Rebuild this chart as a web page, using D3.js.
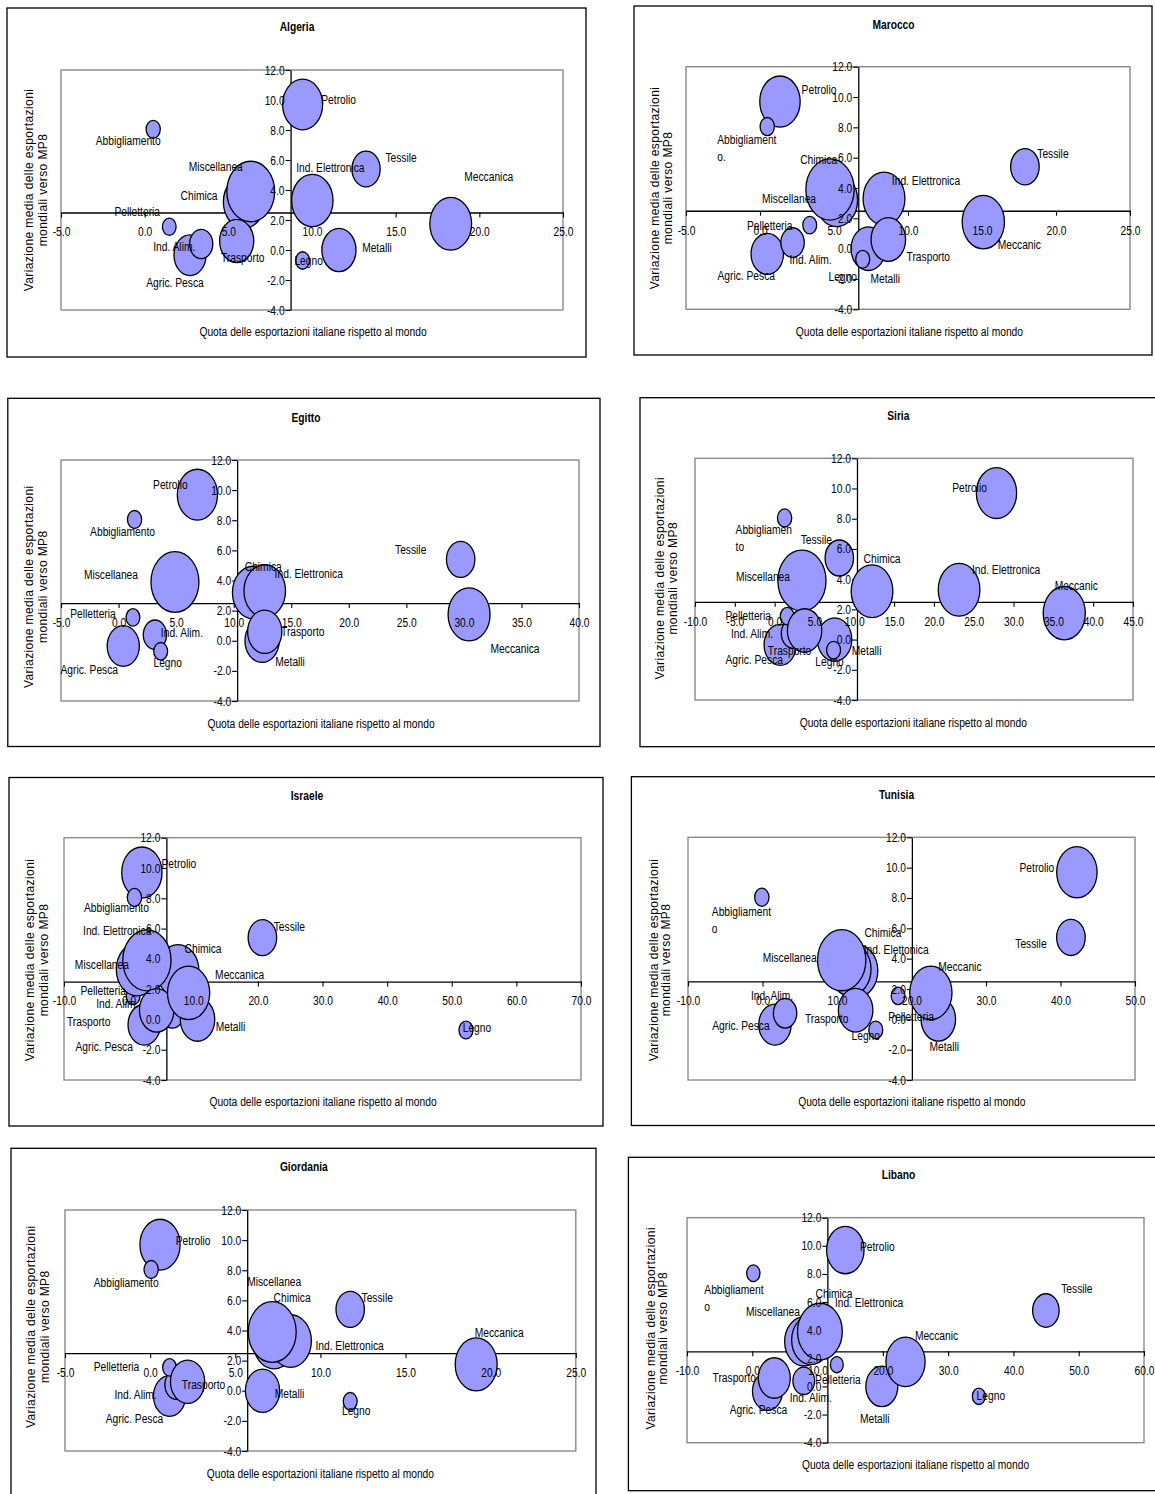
<!DOCTYPE html>
<html>
<head>
<meta charset="utf-8">
<script src="https://cdn.jsdelivr.net/npm/d3@7"></script>
<style>
  html, body { margin: 0; padding: 0; background: #fff; }
  svg { display: block; }
  text { font-family: "Liberation Sans", Arial, sans-serif; }
</style>
</head>
<body>
<svg id="chart" width="1155" height="1494"></svg>
<script>
// Sectors (in drawing order) and their common values
const settori = ["Agric. Pesca", "Ind. Alim.", "Petrolio", "Abbigliamento", "Tessile", "Pelletteria",
                 "Chimica", "Ind. Elettronica", "Miscellanea", "Metalli", "Trasporto", "Meccanica", "Legno"];
// average change of world exports towards MP8 (y)
const crescita = [-0.35, 0.4, 9.7, 8.05, 5.4, 1.55, 3.2, 3.3, 3.9, 0.0, 0.6, 1.75, -0.7];
// bubble weight of each sector
const peso = [45, 23.5, 70, 8.8, 35, 8.2, 75, 75, 100, 51, 51, 76.5, 8.4];

// Italian export share vs world (x), per country, same order as settori
const quotaAlgeria   = [2.71, 3.38, 9.44, 0.51, 13.23, 1.47, 5.94, 10.02, 6.34, 11.61, 5.5, 18.29, 9.44];
const quotaMarocco   = [0.49, 2.2, 1.35, 0.49, 17.9, 3.36, 5.18, 8.38, 4.73, 7.32, 8.67, 15.09, 6.94];
const quotaEgitto    = [0.41, 3.16, 6.85, 1.39, 29.72, 1.25, 11.7, 12.7, 4.9, 12.47, 12.7, 30.45, 3.66];
const quotaSiria     = [0.7, 2.3, 27.86, 1.25, 8.12, 1.58, 12.23, 23.16, 3.43, 7.53, 3.76, 36.37, 7.4];
const quotaIsraele   = [2.41, 6.75, 2.05, 0.9, 20.7, 0.7, 7.65, 1.33, 2.83, 10.66, 4.34, 9.28, 52.2];
const quotaTunisia   = [1.67, 3.03, 42.2, -0.09, 41.4, 18.2, 12.67, 11.76, 10.63, 23.6, 12.5, 22.6, 15.2];
const quotaGiordania = [1.14, 1.55, 0.58, 0.06, 11.75, 1.14, 7.28, 8.25, 7.17, 6.6, 2.2, 19.15, 11.75];
const quotaLibano    = [2.33, 7.88, 14.25, 0.16, 44.97, 12.95, 7.93, 9.0, 10.36, 19.84, 3.37, 23.47, 34.7];

const paesi = ["Algeria", "Marocco", "Egitto", "Siria", "Israele", "Tunisia", "Giordania", "Libano"];
const quote = [quotaAlgeria, quotaMarocco, quotaEgitto, quotaSiria, quotaIsraele, quotaTunisia, quotaGiordania, quotaLibano];
// overall Italian share per country (where the vertical axis crosses)
const quotaTotale = [8.72, 6.64, 10.3, 10.34, 5.84, 20.05, 5.7, 11.5];
// average world growth (where the horizontal axis crosses)
const crescitaMedia = 2.5;

// axis extents and tick steps
const xDomini = [[-5, 25], [-5, 25], [-5, 40], [-10, 45], [-10, 70], [-10, 50], [-5, 25], [-10, 60]];
const xPassi = [5, 5, 5, 5, 10, 10, 5, 10];
const yTicks = [-4, -2, 0, 2, 4, 6, 8, 10, 12];

// label wording that differs from the sector name in some charts
const etichetteSpeciali = {
  Marocco: { "Abbigliamento": ["Abbigliament", "o."], "Meccanica": "Meccanic" },
  Siria:   { "Abbigliamento": ["Abbigliamen", "to"], "Meccanica": "Meccanic" },
  Tunisia: { "Abbigliamento": ["Abbigliament", "o"], "Meccanica": "Meccanic", "Ind. Elettronica": "Ind. Elettonica" },
  Libano:  { "Abbigliamento": ["Abbigliament", "o"], "Meccanica": "Meccanic" }
};

const titoloX = "Quota delle esportazioni italiane rispetto al mondo";
const titoloY = ["Variazione media delle esportazioni", "mondiali verso MP8"];

// ---- layout of the eight panels (pixels) ----
const layout = [
  { frame: [7, 8, 586, 357], plot: [61, 70, 563, 310], title: [297, 27], xt: [313, 332], yt: [28.4, 42.4, 190],
    lab: [[-15,27],[-27,3],[36,-5],[-25,11],[35,-11],[-32,-15],[-45,-6],[18,-33],[-35,-25],[38,-2],[6,17],[38,-47],[6,0]] },
  { frame: [634, 6, 1152, 355], plot: [686, 66.7, 1130, 309.3], title: [893.5, 25], xt: [909.4, 331.7], yt: [655.2, 667.7, 188],
    lab: [[-21,22],[18,17],[39,-12],[-50,13],[28,-13],[-40,0],[-18,-41],[42,-18],[-41,9],[17,30],[40,17],[36,22],[-20,17]] },
  { frame: [7.8, 398.3, 600, 746.5], plot: [61, 460, 579, 701], title: [306, 417.3], xt: [321, 724], yt: [29, 42.6, 586.7],
    lab: [[-34,24],[27,-2],[-27,-10],[-12,12],[-50,-10],[-40,-4],[10,-26],[44,-17],[-64,-7],[28,21],[38,0],[46,34],[7,11]] },
  { frame: [640, 397.7, 1162, 746.7], plot: [695, 458.3, 1133, 700], title: [898.3, 415.7], xt: [913.3, 722.7], yt: [660, 672.3, 578.3],
    lab: [[-26,15],[-41,0],[-27,-5],[-49,12],[-23,-18],[-39,-1],[10,-33],[47,-20],[-39,-4],[32,11],[-15,20],[12,-28],[-4,11]] },
  { frame: [9, 777.5, 603, 1126], plot: [64, 837.7, 581, 1080], title: [307, 796], xt: [323, 1101.7], yt: [29.3, 43.8, 960],
    lab: [[-40,22],[-55,-10],[37,-9],[-18,10],[27,-11],[-30,-5],[25,-22],[-20,-39],[-45,4],[33,7],[-68,11],[51,-18],[11,-2]] },
  { frame: [631.4, 776.7, 1162, 1125.5], plot: [688, 837.3, 1135, 1080], title: [896.6, 795], xt: [911.8, 1101.7], yt: [653.3, 665.8, 960],
    lab: [[-34,1],[-13,-18],[-40,-5],[-50,14],[-40,6],[13,21],[26,-38],[46,-20],[-52,-3],[6,27],[-29,8],[29,-26],[-10,6]] },
  { frame: [11, 1148.3, 596, 1502], plot: [65, 1210, 575.8, 1451], title: [303.8, 1166.7], xt: [320.4, 1474], yt: [30.8, 45, 1326.7],
    lab: [[-35,23],[-41,10],[33,-4],[-25,13],[27,-12],[-53,-1],[18,-45],[59,5],[2,-50],[27,3],[16,3],[23,-32],[6,9]] },
  { frame: [628.4, 1157.3, 1162, 1490.7], plot: [687, 1217.7, 1144, 1442.7], title: [898.5, 1175], xt: [915.5, 1465], yt: [650.5, 663, 1328.3],
    lab: [[-9,18],[7,17],[32,-3],[-49,16],[31,-22],[1,15],[30,-48],[58,-37],[-47,-20],[-7,32],[-40,0],[31,-26],[12,-1]] }
];

const svg = d3.select("#chart");
svg.append("rect").attr("width", 1155).attr("height", 1494).attr("fill", "#fff");

const fmt = d => d.toFixed(1);
const ELLISSE = 0.79;    // horizontal / vertical radius of the bubbles
const STRETTO = 0.82;    // horizontal squeeze giving a narrow typeface
const FS = 12.5;

// places a text at (x, y) with a narrow horizontal scale
function stretto(t, x, y) {
  t.attr("x", null).attr("y", null)
   .attr("transform", `translate(${x},${y}) scale(${STRETTO},1)`);
  return t;
}

paesi.forEach((paese, i) => {
  const L = layout[i];
  const [pl, pt, pr, pb] = L.plot;
  const g = svg.append("g");

  // outer frame
  const [fl, ft, fr, fb] = L.frame;
  g.append("rect").attr("x", fl).attr("y", ft).attr("width", fr - fl).attr("height", fb - ft)
    .attr("fill", "none").attr("stroke", "#000").attr("stroke-width", 1.3);

  const x = d3.scaleLinear().domain(xDomini[i]).range([pl, pr]);
  const y = d3.scaleLinear().domain([-4, 12]).range([pb, pt]);
  const r = d3.scaleSqrt().domain([0, 100]).range([0, 0.126 * (pb - pt)]);

  // plot area border
  g.append("rect").attr("x", pl).attr("y", pt).attr("width", pr - pl).attr("height", pb - pt)
    .attr("fill", "#fff").attr("stroke", "#8a8a8a").attr("stroke-width", 1.4);

  const [x0, x1] = xDomini[i];
  const xt = d3.range(x0, x1 + xPassi[i] / 2, xPassi[i]);
  const asseX = d3.axisBottom(x).tickValues(xt).tickFormat(fmt).tickSize(5).tickSizeOuter(0).tickPadding(10);
  const asseY = d3.axisLeft(y).tickValues(yTicks).tickFormat(fmt).tickSize(5).tickSizeOuter(0).tickPadding(1);
  const posX = `translate(0,${y(crescitaMedia)})`;        // horizontal axis crosses at the average growth
  const posY = `translate(${x(quotaTotale[i])},0)`;       // vertical axis crosses at the overall share

  // axis lines and tick marks (beneath the bubbles)
  const linee = [
    g.append("g").attr("transform", posX).call(asseX),
    g.append("g").attr("transform", posY).call(asseY)
  ];
  linee.forEach(a => {
    a.selectAll(".tick text").remove();
    a.selectAll("path.domain").attr("stroke", "#000").attr("stroke-width", 1.3);
    a.selectAll(".tick line").attr("stroke", "#000").attr("stroke-width", 1.1);
  });

  // bubbles
  const dati = settori.map((s, k) => ({ s, k, qx: quote[i][k], gy: crescita[k], w: peso[k] }));
  g.append("g").selectAll("ellipse").data(dati).join("ellipse")
    .attr("cx", d => x(d.qx)).attr("cy", d => y(d.gy))
    .attr("rx", d => r(d.w) * ELLISSE).attr("ry", d => r(d.w))
    .attr("fill", "#9999ff").attr("stroke", "#000").attr("stroke-width", 1.3);

  // tick labels (above the bubbles)
  const ax = g.append("g").attr("transform", posX).call(asseX);
  ax.selectAll(".tick text").each(function () { stretto(d3.select(this), 0, 15); });
  const ay = g.append("g").attr("transform", posY).call(asseY);
  ay.selectAll(".tick text").each(function () { stretto(d3.select(this), -6, 0); });
  [ax, ay].forEach(a => {
    a.attr("font-size", FS).attr("font-family", null);
    a.selectAll("path.domain").remove();
    a.selectAll(".tick line").remove();
    a.selectAll(".tick text").attr("fill", "#000");
  });

  // data labels
  const spec = etichetteSpeciali[paese] || {};
  const lg = g.append("g").attr("font-size", FS).attr("fill", "#000");
  dati.forEach(d => {
    const testo = spec[d.s] || d.s;
    const [dx, dy] = L.lab[d.k];
    const cx = x(d.qx) + dx, cy = y(d.gy) + dy;
    if (Array.isArray(testo)) {
      const t = stretto(lg.append("text").attr("text-anchor", "start"), cx, cy);
      testo.forEach((riga, j) => {
        t.append("tspan").attr("x", 0).attr("y", j * 17).attr("dy", "0.35em").text(riga);
      });
    } else {
      stretto(lg.append("text"), cx, cy).attr("dy", "0.35em")
        .attr("text-anchor", "middle").text(testo);
    }
  });

  // titles
  stretto(g.append("text"), L.title[0], L.title[1]).attr("dy", "0.35em")
    .attr("text-anchor", "middle").attr("font-size", FS).attr("font-weight", "bold").text(paese);
  stretto(g.append("text"), L.xt[0], L.xt[1]).attr("dy", "0.35em")
    .attr("text-anchor", "middle").attr("font-size", FS).text(titoloX);
  titoloY.forEach((riga, j) => {
    g.append("text")
      .attr("transform", `translate(${L.yt[j]},${L.yt[2]}) rotate(-90)`)
      .attr("dy", "0.35em").attr("text-anchor", "middle")
      .attr("font-size", 12).attr("letter-spacing", 0.4).text(riga);
  });
});
</script>
</body>
</html>
